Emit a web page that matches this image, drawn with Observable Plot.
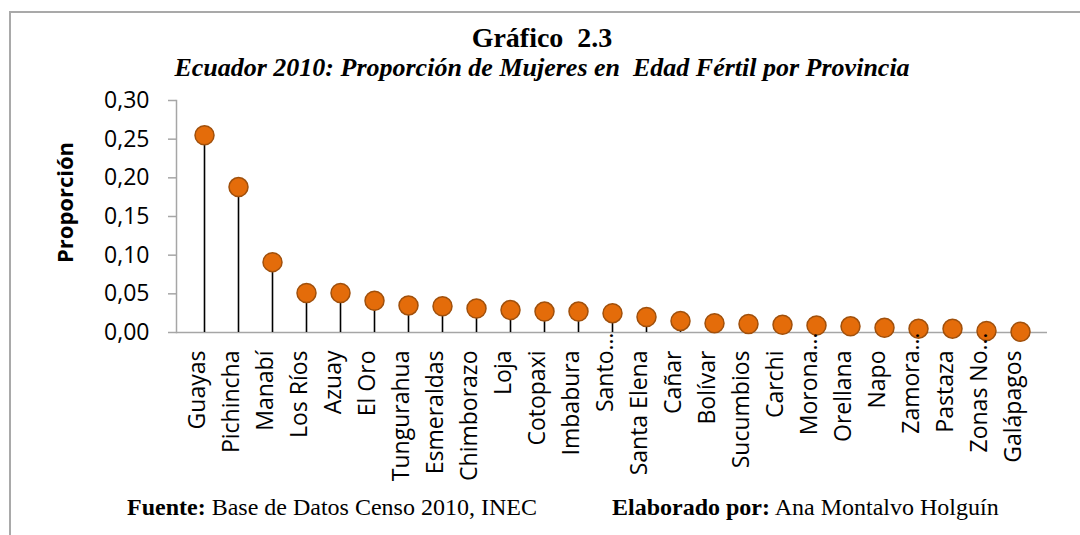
<!DOCTYPE html>
<html>
<head>
<meta charset="utf-8">
<script src="https://cdn.jsdelivr.net/npm/d3@7"></script>
<script src="https://cdn.jsdelivr.net/npm/@observablehq/plot@0.6"></script>
<style>
  html, body { margin: 0; padding: 0; background: #fff; overflow: hidden; }
  #wrap { position: relative; width: 1080px; height: 535px; overflow: hidden; background: #fff; }
  #border { position: absolute; left: 9px; top: 11px; width: 1200px; height: 700px;
            border-left: 2px solid #a9a9a9; border-top: 2px solid #a9a9a9; }
  #chart { position: absolute; left: 0; top: 0; }
  .ttl { position: absolute; left: 0; width: 1084px; text-align: center; font-family: "Liberation Serif", "Times New Roman", serif;
         color: #000; line-height: 1; white-space: pre; z-index: 2; }
  .foot { position: absolute; font-family: "Liberation Serif", "Times New Roman", serif; font-size: 24px;
          line-height: 1; color: #000; white-space: pre; z-index: 2; }
</style>
</head>
<body>
<div id="wrap">
  <div id="border"></div>
  <div id="chart"></div>
  <div class="ttl" id="t1" style="top:24px;font-size:28px;font-weight:bold;"></div>
  <div class="ttl" id="t2" style="top:55px;font-size:26px;font-weight:bold;font-style:italic;"></div>
  <div class="foot" id="f1" style="left:127px;top:495px;"></div>
  <div class="foot" id="f2" style="left:612px;top:495px;"></div>
</div>
<script>
// ---- data ----
const provincias = ["Guayas","Pichincha","Manabí","Los Ríos","Azuay","El Oro","Tungurahua","Esmeraldas","Chimborazo","Loja","Cotopaxi","Imbabura","Santo…","Santa Elena","Cañar","Bolívar","Sucumbios","Carchi","Morona…","Orellana","Napo","Zamora…","Pastaza","Zonas No…","Galápagos"];
const proporcion = [0.255,0.188,0.091,0.051,0.051,0.041,0.035,0.034,0.031,0.029,0.027,0.027,0.025,0.020,0.015,0.012,0.011,0.010,0.009,0.008,0.006,0.005,0.005,0.002,0.001];
const yTicks = [0, 0.05, 0.10, 0.15, 0.20, 0.25, 0.30];
const titulo = "Gráfico  2.3";
const subtitulo = "Ecuador 2010: Proporción de Mujeres en  Edad Fértil por Provincia";
const ejeY = "Proporción";
const fuenteLbl = "Fuente:", fuenteTxt = " Base de Datos Censo 2010, INEC";
const elabLbl = "Elaborado por:", elabTxt = " Ana Montalvo Holguín";

document.getElementById("t1").textContent = titulo;
document.getElementById("t2").textContent = subtitulo;
document.getElementById("f1").innerHTML = "<b>" + fuenteLbl + "</b>" + fuenteTxt;
document.getElementById("f2").innerHTML = "<b>" + elabLbl + "</b>" + elabTxt;

const data = provincias.map((p, i) => ({
  name: p,
  base: p.endsWith("…") ? p.slice(0, -1) : p,
  trunc: p.endsWith("…"),
  value: proporcion[i]
}));

const axisGray = "#a6a6a6";
const fmt = d => d.toFixed(2).replace(".", ",");

const chart = Plot.plot({
  width: 1080,
  height: 535,
  marginLeft: 176,
  marginRight: 33,
  marginTop: 100,
  marginBottom: 203,
  style: { fontFamily: "'Open Sans', sans-serif", color: "#000", background: "transparent", overflow: "visible" },
  x: { type: "band", domain: provincias, padding: 0, axis: null },
  y: { domain: [0, 0.30], axis: null },
  marks: [
    Plot.frame({ anchor: "left", stroke: axisGray, strokeWidth: 1.5 }),
    Plot.ruleY([0], { stroke: axisGray, strokeWidth: 1.5 }),
    Plot.axisY(yTicks, { tickFormat: fmt, tickSize: 8, tickPadding: 19, stroke: axisGray, strokeWidth: 1.5, fontSize: 23, fill: "#000", label: null }),
    Plot.text([ejeY], { frameAnchor: "left", textAnchor: "middle", dx: -111, dy: -14, rotate: -90, fontSize: 22, fontWeight: "bold", fill: "#000" }),
    Plot.ruleX(data, { x: "name", y1: 0, y2: "value", stroke: "#000", strokeWidth: 1.6 }),
    Plot.dot(data, { x: "name", y: "value", r: 9.5, fill: "#E46C0A", stroke: "#A0500C", strokeWidth: 1.5 }),
    Plot.text(data, { x: "name", frameAnchor: "bottom", text: "base", rotate: -90, textAnchor: "end", dy: 18, fontSize: 23, fill: "#000" }),
    Plot.text(data.filter(d => d.trunc), { x: "name", frameAnchor: "bottom", text: () => "…", rotate: -90, textAnchor: "start", dy: 18, fontSize: 23, fill: "#000" })
  ]
});
document.getElementById("chart").appendChild(chart);
</script>
</body>
</html>
